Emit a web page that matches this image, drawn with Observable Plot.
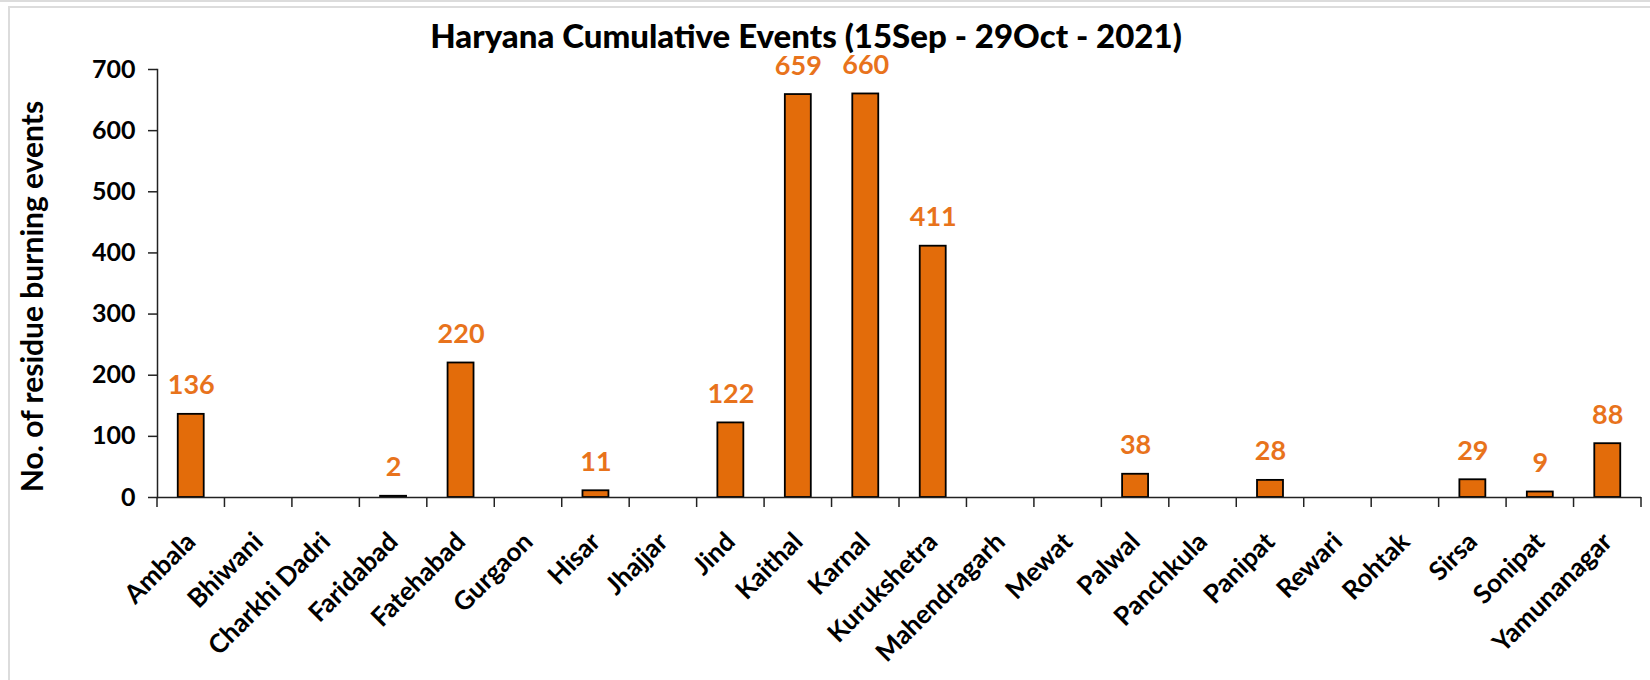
<!DOCTYPE html>
<html>
<head>
<meta charset="utf-8">
<script src="https://cdn.jsdelivr.net/npm/d3@7"></script>
<script src="https://cdn.jsdelivr.net/npm/@observablehq/plot@0.6"></script>
<style>
  html, body { margin: 0; padding: 0; background: #fff; }
  body { width: 1650px; height: 680px; position: relative; overflow: hidden; font-family: Lato, "Open Sans", sans-serif; }
  #topline { position: absolute; left: 0; top: 0; width: 1650px; height: 2px; background: #dcdcdc; }
  #box { position: absolute; left: 8px; top: 6px; width: 1700px; height: 700px; border-left: 2px solid #dcdcdc; border-top: 2px solid #dcdcdc; }
  #title { position: absolute; left: 0; top: 25px; width: 1612px; text-align: center; font-size: 33px; font-weight: 900; color: #000; line-height: 20px; }
  #chart { position: absolute; left: 0; top: 0; }
</style>
</head>
<body>
<div id="topline"></div>
<div id="box"></div>
<div id="chart"></div>
<div id="title">Haryana Cumulative Events (15Sep - 29Oct - 2021)</div>
<script>
const districts = ["Ambala","Bhiwani","Charkhi Dadri","Faridabad","Fatehabad","Gurgaon","Hisar","Jhajjar","Jind","Kaithal","Karnal","Kurukshetra","Mahendragarh","Mewat","Palwal","Panchkula","Panipat","Rewari","Rohtak","Sirsa","Sonipat","Yamunanagar"];
const events = [136,0,0,2,220,0,11,0,122,659,660,411,0,0,38,0,28,0,0,29,9,88];
const yTicks = [0,100,200,300,400,500,600,700];
const yLabel = "No. of residue burning events";

const data = districts.map((d, i) => ({district: d, value: events[i]}));
const barColor = "#E36C0A";
const labelColor = "#E8731C";

const chart = Plot.plot({
  width: 1650,
  height: 680,
  marginTop: 69,
  marginBottom: 183,
  marginLeft: 157,
  marginRight: 9,
  style: {fontFamily: "Lato, 'Open Sans', sans-serif", background: "transparent", overflow: "visible"},
  x: {domain: districts, paddingInner: 0.615, paddingOuter: 0.3075, align: 0.5, round: false},
  y: {domain: [0, 700], round: false},
  marks: [
    Plot.frame({anchor: "left", stroke: "#222", strokeWidth: 1.5}),
    Plot.barY(data, {x: "district", y: "value", fill: barColor, stroke: "#000", strokeWidth: 1.8}),
    Plot.ruleY([0], {stroke: "#222", strokeWidth: 1.5}),
    Plot.text(data.filter(d => d.value > 0), {
      x: "district", y: "value", text: d => String(d.value),
      dy: -20, lineAnchor: "bottom", fill: labelColor, fontSize: 27, fontWeight: "bold"
    }),
    Plot.axisY({ticks: yTicks, tickSize: 9, tickPadding: 13, fontSize: 25, fontWeight: "bold", stroke: "#222", strokeWidth: 1.5, color: "#000", label: null}),
    Plot.text([yLabel], {frameAnchor: "left", textAnchor: "middle", lineAnchor: "middle", rotate: -90, dx: -124, dy: 13, text: d => d, fontSize: 30, fontWeight: "bold", fill: "#000"}),
    Plot.axisX({tickSize: 0, tickRotate: -45, tickPadding: 40, dx: 0, fontSize: 26, fontWeight: "bold", color: "#000", label: null})
  ]
});
document.getElementById("chart").appendChild(chart);

// category boundary ticks below the baseline, from the plot's own scales
const xs = chart.scale("x");
const ys = chart.scale("y");
const step = xs.step ?? ((xs.range[1] - xs.range[0]) / districts.length);
const bw = xs.bandwidth ?? step * (1 - 0.615);
const y0 = ys.apply(0);
const svg = d3.select(chart.tagName.toLowerCase() === "svg" ? chart : chart.querySelector("svg"));
const bounds = districts.map(d => xs.apply(d) - (step - bw) / 2);
bounds.push(bounds[bounds.length - 1] + step);
svg.append("g").selectAll("line").data(bounds).join("line")
  .attr("x1", d => d).attr("x2", d => d)
  .attr("y1", y0).attr("y2", y0 + 10)
  .attr("stroke", "#222").attr("stroke-width", 1.5);
</script>
</body>
</html>
